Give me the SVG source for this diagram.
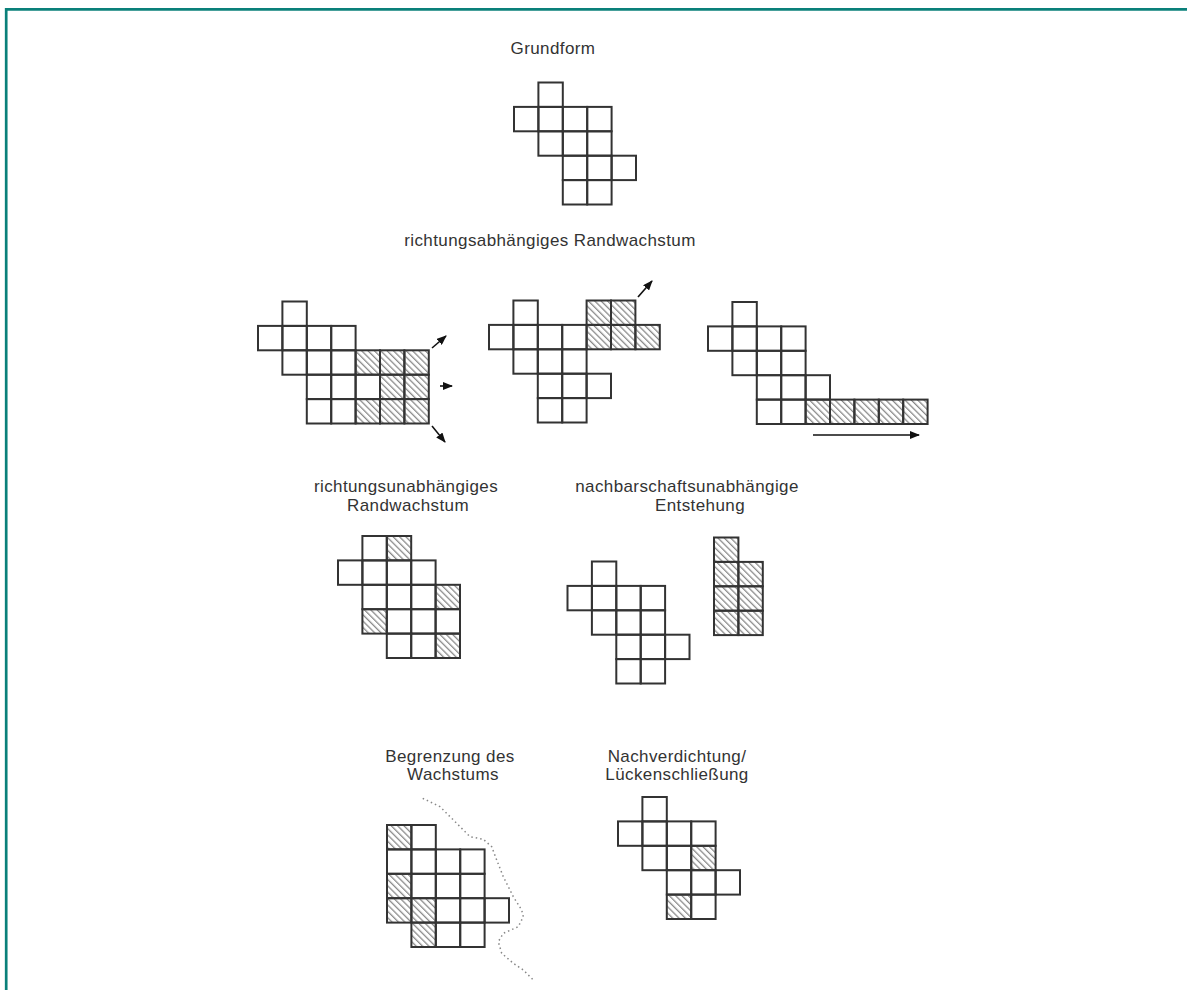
<svg xmlns="http://www.w3.org/2000/svg" width="1187" height="990" viewBox="0 0 1187 990">
<style>
.c{fill:none;stroke:#333;stroke-width:2}
.h{fill:url(#hatch);stroke:#333;stroke-width:2}
.t{font-family:"Liberation Sans",Arial,sans-serif;font-size:17px;letter-spacing:0.4px;fill:#333;text-anchor:middle}
.a{stroke:#111;stroke-width:1.6;fill:none;marker-end:url(#ah)}
</style>
<defs>
<pattern id="hatch" patternUnits="userSpaceOnUse" width="4.5" height="4.5" patternTransform="rotate(45)">
<line x1="0" y1="2" x2="4.5" y2="2" stroke="#666" stroke-width="1"/>
</pattern>
<marker id="ah" markerUnits="userSpaceOnUse" markerWidth="10" markerHeight="8" refX="9" refY="4" orient="auto">
<path d="M0,0 L10,4 L0,8 Z" fill="#111"/>
</marker>
</defs>
<rect width="1187" height="990" fill="#fff"/>
<g id="border" stroke="#0a807a" stroke-width="2.7">
<line x1="5" y1="9.3" x2="1187" y2="9.3"/>
<line x1="6.2" y1="8" x2="6.2" y2="990"/>
</g>

<g id="grundform">
<text class="t" x="553" y="54">Grundform</text>
<g transform="translate(514,82.5)">
<rect class="c" x="24.4" y="0" width="24.4" height="24.4"/>
<rect class="c" x="0" y="24.4" width="24.4" height="24.4"/><rect class="c" x="24.4" y="24.4" width="24.4" height="24.4"/><rect class="c" x="48.8" y="24.4" width="24.4" height="24.4"/><rect class="c" x="73.2" y="24.4" width="24.4" height="24.4"/>
<rect class="c" x="24.4" y="48.8" width="24.4" height="24.4"/><rect class="c" x="48.8" y="48.8" width="24.4" height="24.4"/><rect class="c" x="73.2" y="48.8" width="24.4" height="24.4"/>
<rect class="c" x="48.8" y="73.2" width="24.4" height="24.4"/><rect class="c" x="73.2" y="73.2" width="24.4" height="24.4"/><rect class="c" x="97.6" y="73.2" width="24.4" height="24.4"/>
<rect class="c" x="48.8" y="97.6" width="24.4" height="24.4"/><rect class="c" x="73.2" y="97.6" width="24.4" height="24.4"/>
</g>
</g>

<g id="richtungsabhaengig">
<text class="t" x="550" y="246">richtungsabhängiges Randwachstum</text>
<g id="fig-b" transform="translate(258,301.5)">
<rect class="c" x="24.4" y="0" width="24.4" height="24.4"/>
<rect class="c" x="0" y="24.4" width="24.4" height="24.4"/><rect class="c" x="24.4" y="24.4" width="24.4" height="24.4"/><rect class="c" x="48.8" y="24.4" width="24.4" height="24.4"/><rect class="c" x="73.2" y="24.4" width="24.4" height="24.4"/>
<rect class="c" x="24.4" y="48.8" width="24.4" height="24.4"/><rect class="c" x="48.8" y="48.8" width="24.4" height="24.4"/><rect class="c" x="73.2" y="48.8" width="24.4" height="24.4"/>
<rect class="h" x="97.6" y="48.8" width="24.4" height="24.4"/><rect class="h" x="122" y="48.8" width="24.4" height="24.4"/><rect class="h" x="146.4" y="48.8" width="24.4" height="24.4"/>
<rect class="c" x="48.8" y="73.2" width="24.4" height="24.4"/><rect class="c" x="73.2" y="73.2" width="24.4" height="24.4"/><rect class="c" x="97.6" y="73.2" width="24.4" height="24.4"/>
<rect class="h" x="122" y="73.2" width="24.4" height="24.4"/><rect class="h" x="146.4" y="73.2" width="24.4" height="24.4"/>
<rect class="c" x="48.8" y="97.6" width="24.4" height="24.4"/><rect class="c" x="73.2" y="97.6" width="24.4" height="24.4"/>
<rect class="h" x="97.6" y="97.6" width="24.4" height="24.4"/><rect class="h" x="122" y="97.6" width="24.4" height="24.4"/><rect class="h" x="146.4" y="97.6" width="24.4" height="24.4"/>
</g>
<g id="fig-c" transform="translate(489,300.5)">
<rect class="c" x="24.4" y="0" width="24.4" height="24.4"/>
<rect class="h" x="97.6" y="0" width="24.4" height="24.4"/><rect class="h" x="122" y="0" width="24.4" height="24.4"/>
<rect class="c" x="0" y="24.4" width="24.4" height="24.4"/><rect class="c" x="24.4" y="24.4" width="24.4" height="24.4"/><rect class="c" x="48.8" y="24.4" width="24.4" height="24.4"/><rect class="c" x="73.2" y="24.4" width="24.4" height="24.4"/>
<rect class="h" x="97.6" y="24.4" width="24.4" height="24.4"/><rect class="h" x="122" y="24.4" width="24.4" height="24.4"/><rect class="h" x="146.4" y="24.4" width="24.4" height="24.4"/>
<rect class="c" x="24.4" y="48.8" width="24.4" height="24.4"/><rect class="c" x="48.8" y="48.8" width="24.4" height="24.4"/><rect class="c" x="73.2" y="48.8" width="24.4" height="24.4"/>
<rect class="c" x="48.8" y="73.2" width="24.4" height="24.4"/><rect class="c" x="73.2" y="73.2" width="24.4" height="24.4"/><rect class="c" x="97.6" y="73.2" width="24.4" height="24.4"/>
<rect class="c" x="48.8" y="97.6" width="24.4" height="24.4"/><rect class="c" x="73.2" y="97.6" width="24.4" height="24.4"/>
</g>
<g id="fig-d" transform="translate(708,302)">
<rect class="c" x="24.4" y="0" width="24.4" height="24.4"/>
<rect class="c" x="0" y="24.4" width="24.4" height="24.4"/><rect class="c" x="24.4" y="24.4" width="24.4" height="24.4"/><rect class="c" x="48.8" y="24.4" width="24.4" height="24.4"/><rect class="c" x="73.2" y="24.4" width="24.4" height="24.4"/>
<rect class="c" x="24.4" y="48.8" width="24.4" height="24.4"/><rect class="c" x="48.8" y="48.8" width="24.4" height="24.4"/><rect class="c" x="73.2" y="48.8" width="24.4" height="24.4"/>
<rect class="c" x="48.8" y="73.2" width="24.4" height="24.4"/><rect class="c" x="73.2" y="73.2" width="24.4" height="24.4"/><rect class="c" x="97.6" y="73.2" width="24.4" height="24.4"/>
<rect class="c" x="48.8" y="97.6" width="24.4" height="24.4"/><rect class="c" x="73.2" y="97.6" width="24.4" height="24.4"/>
<rect class="h" x="97.6" y="97.6" width="24.4" height="24.4"/><rect class="h" x="122" y="97.6" width="24.4" height="24.4"/><rect class="h" x="146.4" y="97.6" width="24.4" height="24.4"/><rect class="h" x="170.8" y="97.6" width="24.4" height="24.4"/><rect class="h" x="195.2" y="97.6" width="24.4" height="24.4"/>
</g>
</g>

<g id="richtungsunabhaengig">
<text class="t" x="406" y="492">richtungsunabhängiges</text>
<text class="t" x="408" y="511">Randwachstum</text>
<g transform="translate(338,536)">
<rect class="c" x="24.4" y="0" width="24.4" height="24.4"/><rect class="h" x="48.8" y="0" width="24.4" height="24.4"/>
<rect class="c" x="0" y="24.4" width="24.4" height="24.4"/><rect class="c" x="24.4" y="24.4" width="24.4" height="24.4"/><rect class="c" x="48.8" y="24.4" width="24.4" height="24.4"/><rect class="c" x="73.2" y="24.4" width="24.4" height="24.4"/>
<rect class="c" x="24.4" y="48.8" width="24.4" height="24.4"/><rect class="c" x="48.8" y="48.8" width="24.4" height="24.4"/><rect class="c" x="73.2" y="48.8" width="24.4" height="24.4"/><rect class="h" x="97.6" y="48.8" width="24.4" height="24.4"/>
<rect class="h" x="24.4" y="73.2" width="24.4" height="24.4"/><rect class="c" x="48.8" y="73.2" width="24.4" height="24.4"/><rect class="c" x="73.2" y="73.2" width="24.4" height="24.4"/><rect class="c" x="97.6" y="73.2" width="24.4" height="24.4"/>
<rect class="c" x="48.8" y="97.6" width="24.4" height="24.4"/><rect class="c" x="73.2" y="97.6" width="24.4" height="24.4"/><rect class="h" x="97.6" y="97.6" width="24.4" height="24.4"/>
</g>
</g>

<g id="nachbarschaftsunabhaengig">
<text class="t" x="687" y="492">nachbarschaftsunabhängige</text>
<text class="t" x="700" y="511">Entstehung</text>
<g transform="translate(567.5,561.5)">
<rect class="c" x="24.4" y="0" width="24.4" height="24.4"/>
<rect class="c" x="0" y="24.4" width="24.4" height="24.4"/><rect class="c" x="24.4" y="24.4" width="24.4" height="24.4"/><rect class="c" x="48.8" y="24.4" width="24.4" height="24.4"/><rect class="c" x="73.2" y="24.4" width="24.4" height="24.4"/>
<rect class="c" x="24.4" y="48.8" width="24.4" height="24.4"/><rect class="c" x="48.8" y="48.8" width="24.4" height="24.4"/><rect class="c" x="73.2" y="48.8" width="24.4" height="24.4"/>
<rect class="c" x="48.8" y="73.2" width="24.4" height="24.4"/><rect class="c" x="73.2" y="73.2" width="24.4" height="24.4"/><rect class="c" x="97.6" y="73.2" width="24.4" height="24.4"/>
<rect class="c" x="48.8" y="97.6" width="24.4" height="24.4"/><rect class="c" x="73.2" y="97.6" width="24.4" height="24.4"/>
</g>
<g transform="translate(714,537.5)">
<rect class="h" x="0" y="0" width="24.4" height="24.4"/>
<rect class="h" x="0" y="24.4" width="24.4" height="24.4"/><rect class="h" x="24.4" y="24.4" width="24.4" height="24.4"/>
<rect class="h" x="0" y="48.8" width="24.4" height="24.4"/><rect class="h" x="24.4" y="48.8" width="24.4" height="24.4"/>
<rect class="h" x="0" y="73.2" width="24.4" height="24.4"/><rect class="h" x="24.4" y="73.2" width="24.4" height="24.4"/>
</g>
</g>

<g id="begrenzung">
<text class="t" x="450" y="762">Begrenzung des</text>
<text class="t" x="453" y="780">Wachstums</text>
<g transform="translate(387,825)">
<rect class="h" x="0" y="0" width="24.4" height="24.4"/><rect class="c" x="24.4" y="0" width="24.4" height="24.4"/>
<rect class="c" x="0" y="24.4" width="24.4" height="24.4"/><rect class="c" x="24.4" y="24.4" width="24.4" height="24.4"/><rect class="c" x="48.8" y="24.4" width="24.4" height="24.4"/><rect class="c" x="73.2" y="24.4" width="24.4" height="24.4"/>
<rect class="h" x="0" y="48.8" width="24.4" height="24.4"/><rect class="c" x="24.4" y="48.8" width="24.4" height="24.4"/><rect class="c" x="48.8" y="48.8" width="24.4" height="24.4"/><rect class="c" x="73.2" y="48.8" width="24.4" height="24.4"/>
<rect class="h" x="0" y="73.2" width="24.4" height="24.4"/><rect class="h" x="24.4" y="73.2" width="24.4" height="24.4"/><rect class="c" x="48.8" y="73.2" width="24.4" height="24.4"/><rect class="c" x="73.2" y="73.2" width="24.4" height="24.4"/><rect class="c" x="97.6" y="73.2" width="24.4" height="24.4"/>
<rect class="h" x="24.4" y="97.6" width="24.4" height="24.4"/><rect class="c" x="48.8" y="97.6" width="24.4" height="24.4"/><rect class="c" x="73.2" y="97.6" width="24.4" height="24.4"/>
</g>
<polyline points="422.7,798.3 440,806.7 456.7,823.3 470,836.7 483.3,839.3 491.7,846.7 496.7,860 503.3,876.7 513.3,896.7 521.7,910 523.3,916.7 518.3,926.7 503.3,933.3 498.3,941.7 501.7,953.3 513.3,963.3 523.3,970 533.3,980" fill="none" stroke="#888" stroke-width="1.5" stroke-dasharray="1.5 3"/>
</g>

<g id="nachverdichtung">
<text class="t" x="677" y="762">Nachverdichtung/</text>
<text class="t" x="677" y="780">Lückenschließung</text>
<g transform="translate(618,797)">
<rect class="c" x="24.4" y="0" width="24.4" height="24.4"/>
<rect class="c" x="0" y="24.4" width="24.4" height="24.4"/><rect class="c" x="24.4" y="24.4" width="24.4" height="24.4"/><rect class="c" x="48.8" y="24.4" width="24.4" height="24.4"/><rect class="c" x="73.2" y="24.4" width="24.4" height="24.4"/>
<rect class="c" x="24.4" y="48.8" width="24.4" height="24.4"/><rect class="c" x="48.8" y="48.8" width="24.4" height="24.4"/><rect class="h" x="73.2" y="48.8" width="24.4" height="24.4"/>
<rect class="c" x="48.8" y="73.2" width="24.4" height="24.4"/><rect class="c" x="73.2" y="73.2" width="24.4" height="24.4"/><rect class="c" x="97.6" y="73.2" width="24.4" height="24.4"/>
<rect class="h" x="48.8" y="97.6" width="24.4" height="24.4"/><rect class="c" x="73.2" y="97.6" width="24.4" height="24.4"/>
</g>
</g>

<g id="connectors">
<line class="a" x1="432" y1="348" x2="446" y2="336"/>
<line class="a" x1="440" y1="386" x2="452" y2="386"/>
<line class="a" x1="432" y1="426" x2="445" y2="442"/>
<line class="a" x1="638" y1="297" x2="652" y2="281"/>
<line class="a" x1="813" y1="435" x2="919" y2="435"/>
</g>
</svg>
